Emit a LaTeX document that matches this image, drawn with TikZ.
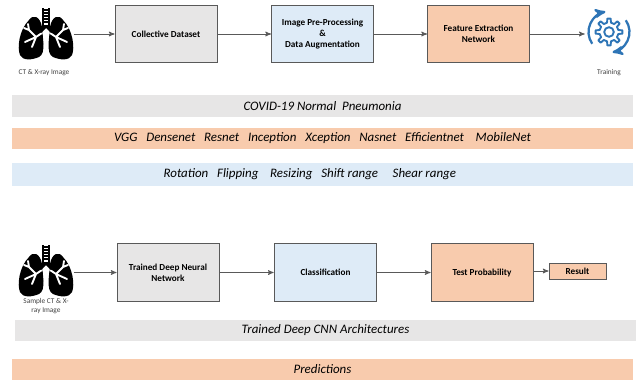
\documentclass[tikz,border=0pt]{standalone}
\usepackage{fontspec}
\setmainfont{Carlito}
\usetikzlibrary{calc}
\usetikzlibrary{arrows}
\definecolor{boxgray}{HTML}{E7E6E6}
\definecolor{boxblue}{HTML}{DEEBF7}
\definecolor{boxorange}{HTML}{F8CBAD}
\definecolor{edge}{HTML}{595959}
\definecolor{iconblue}{HTML}{2E75B6}
\tikzset{
 stagebox/.style={draw=edge, line width=.75pt, minimum width=76.5pt, minimum height=43pt, align=center, inner sep=2pt, font=\fontsize{6.9}{8.5}\selectfont\bfseries},
 band/.style={minimum width=466pt, minimum height=16pt, inner sep=0, font=\fontsize{9.7}{11}\selectfont\itshape},
 flow/.style={edge, line width=.6pt, ->, >=stealth'},
 caption/.style={font=\fontsize{5.5}{7}\selectfont, align=center, text=black!75}
}
\newcommand{\lungicon}[1]{%
\begin{scope}[shift={#1}]
\foreach \s in {1,-1} {
 \fill[black] (4*\s,-7) .. controls (6*\s,-18) and (13*\s,-20) .. (17*\s,-14) .. controls (27*\s,-4) and (29*\s,14) .. (26*\s,21) .. controls (23*\s,27) and (14*\s,26) .. (7*\s,23) .. controls (3*\s,21) and (2.5*\s,16) .. (2.5*\s,10) -- cycle;
 \draw[white, line width=1.4pt, line cap=round, line join=round] (4*\s,-1) -- (10*\s,3) -- (17*\s,-4) (10*\s,3) -- (14*\s,13) (10*\s,3) -- (21*\s,8) (17*\s,-4) -- (22*\s,-6) (17*\s,-4) -- (18*\s,-10);
}
\draw[line width=.9pt] (-3,-26) -- (-3,-8) (3,-26) -- (3,-8);
\foreach \yy in {-24,-21,...,-12} \draw[line width=.9pt] (-3,\yy) -- (3,\yy);
\fill (-3.5,-9) -- (3.5,-9) -- (8,-4) -- (5,-1) -- (0,-6) -- (-5,-1) -- (-8,-4) -- cycle;
\end{scope}}

\begin{document}
\begin{tikzpicture}[x=.75pt,y=-.75pt]
\useasboundingbox (0,0) rectangle (642,382);

\lungicon{(46,34)}
\node[minimum width=41pt, minimum height=36pt] (lungtop) at (46,34) {};
\node[caption] (ctlabel) at (44,73) {CT \& X-ray Image};
\node[stagebox, fill=boxgray] (dataset) at (166,34) {Collective Dataset};
\node[stagebox, fill=boxblue] (prep) at (322.5,34) {Image Pre-Processing\\\&\\Data Augmentation};
\node[stagebox, fill=boxorange] (feature) at (478.5,34) {Feature Extraction\\Network};

\begin{scope}[shift={(609,32)}, x=.75pt, y=.75pt]
\draw[iconblue, line width=1.4pt, line join=round] (-12:9.5) \foreach \a in {0,45,...,315} { -- (\a-7:13.5) -- (\a+7:13.5) -- (\a+12:9.5) arc[start angle=\a+12, end angle=\a+33, radius=9.5] } -- cycle;
\draw[iconblue, line width=1.4pt] (0,0) circle (4.8);
\draw[iconblue, line width=1.7pt, ->, >=stealth'] (215:20.5) arc[start angle=215, end angle=100, radius=20.5];
\draw[iconblue, line width=1.7pt, ->, >=stealth'] (35:20.5) arc[start angle=35, end angle=-80, radius=20.5];
\end{scope}
\node[minimum width=36pt, minimum height=34pt] (train) at (609,34) {};
\node[caption] (trainlabel) at (609,73) {Training};

\draw[flow] (lungtop) -- (dataset);
\draw[flow] (dataset) -- (prep);
\draw[flow] (prep) -- (feature);
\draw[flow] (feature) -- (train);

\node[band, fill=boxgray, minimum height=16.5pt] (classes) at (322.5,106) {COVID-19 Normal\ \ Pneumonia};
\node[band, fill=boxorange] (models) at (322.5,138.5) {VGG\ \ \ Densenet\ \ \ Resnet\ \ \ Inception\ \ \ Xception\ \ \ Nasnet\ \ \ Efficientnet\ \ \ \ MobileNet};
\node[band, fill=boxblue, minimum height=17pt] (augment) at (322.5,174.5) {Rotation\ \ \ Flipping\ \ \ \ Resizing\ \ \ Shift range\ \ \ \ \ Shear range\kern19pt};

\lungicon{(46,271)}
\node[minimum width=41pt, minimum height=36pt] (lungbot) at (46,272.5) {};
\node[caption] (samplelabel) at (46,306) {Sample CT \& X-\\ray Image};
\node[stagebox, fill=boxgray] (trained) at (168,272.5) {Trained Deep Neural\\Network};
\node[stagebox, fill=boxblue, minimum width=77pt] (classify) at (325.5,272.5) {Classification};
\node[stagebox, fill=boxorange] (testprob) at (482,272.5) {Test Probability};
\node[stagebox, fill=boxorange, minimum width=42.75pt, minimum height=12pt] (result) at (577.5,271) {Result};

\draw[flow] (lungbot) -- (trained);
\draw[flow] (trained) -- (classify);
\draw[flow] (classify) -- (testprob);
\draw[flow] (testprob.east |- result.west) -- (result.west);

\node[band, fill=boxgray] (cnnarch) at (325.5,330.5) {Trained Deep CNN Architectures};
\node[band, fill=boxorange] (predict) at (322.5,369.5) {Predictions};
\end{tikzpicture}
\end{document}
